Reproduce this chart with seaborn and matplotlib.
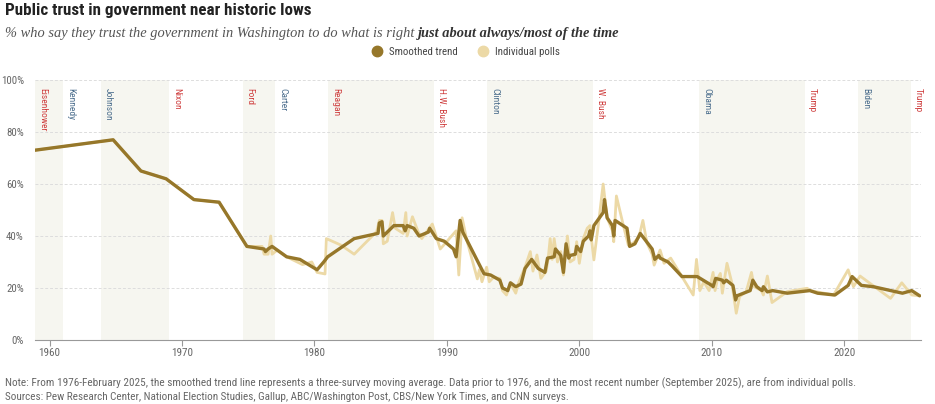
import numpy as np
import pandas as pd
import matplotlib
matplotlib.use("Agg")
import matplotlib.pyplot as plt
import seaborn as sns
from matplotlib import font_manager
from matplotlib.lines import Line2D

# smoothed trend (three-survey moving average)
trend_year = [1958.9, 1964.8, 1966.9, 1968.8, 1970.9, 1972.8, 1974.9, 1976.2, 1976.3, 1976.5,
              1976.8, 1977.9, 1978.9, 1980.2, 1980.7, 1981.0, 1983.0, 1984.8, 1984.9, 1985.1,
              1985.2, 1986.0, 1986.7, 1986.85, 1987.0, 1987.5, 1987.9, 1988.6, 1988.7, 1989.2,
              1989.8, 1990.5, 1990.7, 1991.0, 1991.2, 1992.8, 1993.3, 1994.0, 1994.2, 1994.6,
              1994.8, 1995.2, 1995.6, 1995.9, 1996.4, 1996.9, 1997.4, 1997.6, 1998.1, 1998.2,
              1998.6, 1998.8, 1999.0, 1999.2, 1999.3, 1999.7, 1999.8, 2000.1, 2000.3, 2000.7,
              2000.8, 2000.9, 2001.1, 2001.8, 2001.9, 2002.1, 2002.5, 2002.6, 2002.7, 2003.6,
              2003.8, 2004.2, 2004.6, 2005.5, 2005.7, 2006.0, 2006.1, 2006.7, 2007.0, 2007.75,
              2008.9, 2010.0, 2010.1, 2010.3, 2010.8, 2010.9, 2011.1, 2011.6, 2011.8, 2011.9,
              2012.9, 2013.1, 2013.4, 2013.8, 2013.9, 2014.2, 2014.6, 2015.7, 2017.4, 2018.0,
              2019.3, 2020.3, 2020.6, 2021.3, 2022.2, 2024.4, 2025.1, 2025.7]
trend_pct = [73, 77, 65, 62, 54, 53, 36, 35, 34, 35,
             36, 32, 31, 27, 30, 32, 39, 41, 45, 45.5,
             40, 44, 44, 42, 44, 43, 40, 41.5, 43, 39,
             38, 35, 32, 46, 41.5, 25.5, 25, 23, 20, 19,
             22, 20.5, 21.5, 27.5, 31, 27.5, 26, 31.5, 32, 35,
             32.5, 26, 37, 31.5, 32.5, 33, 36, 34, 38, 40,
             42, 38.5, 44, 49, 54, 47, 44, 40, 46, 43,
             36, 37, 41, 35, 31, 32.5, 31.5, 30, 28.5, 24.4,
             24.4, 21, 20.5, 23.7, 23, 22, 23, 21, 15.4, 17,
             19, 23, 20.5, 19, 20.5, 18.5, 19, 18, 19, 18,
             17.3, 21, 24.4, 21, 20.5, 18, 19, 17]

# individual polls
poll_year = [1958.9, 1964.8, 1966.9, 1968.8, 1970.9, 1972.8, 1974.9, 1976.05, 1976.2, 1976.5,
             1976.7, 1976.8, 1977.2, 1977.9, 1979.1, 1979.8, 1980.2, 1980.8, 1980.9, 1982.0,
             1983.0, 1984.7, 1984.9, 1985.1, 1985.2, 1985.5, 1985.9, 1986.1, 1986.7, 1986.9,
             1987.0, 1987.4, 1987.8, 1988.1, 1988.9, 1989.0, 1989.5, 1990.1, 1990.7, 1990.9,
             1991.15, 1991.5, 1992.3, 1992.45, 1992.65, 1993.0, 1993.2, 1993.5, 1994.0, 1994.2,
             1994.5, 1994.8, 1995.2, 1995.4, 1995.9, 1996.3, 1996.5, 1996.8, 1997.1, 1997.5,
             1997.65, 1997.8, 1997.95, 1998.1, 1998.35, 1998.6, 1998.8, 1999.1, 1999.3, 1999.6,
             1999.8, 2000.0, 2000.3, 2000.6, 2000.8, 2001.1, 2001.5, 2001.8, 2002.1, 2002.5,
             2002.6, 2002.8, 2003.3, 2003.7, 2004.1, 2004.5, 2004.8, 2005.1, 2005.5, 2005.65,
             2006.1, 2006.4, 2006.9, 2007.4, 2008.6, 2008.85, 2009.1, 2009.4, 2009.8, 2010.1,
             2010.25, 2010.45, 2010.65, 2010.8, 2011.15, 2011.5, 2011.85, 2012.1, 2012.6, 2013.0,
             2013.2, 2013.75, 2013.9, 2014.2, 2014.55, 2015.7, 2017.2, 2017.45, 2019.2, 2020.3,
             2020.7, 2021.2, 2023.5, 2024.35, 2025.1, 2025.7]
poll_pct = [73, 77, 65, 62, 54, 53, 36, 36, 33, 33,
            40, 33, 34.6, 32, 29, 30, 26, 25.4, 39, 36.5,
            33, 41.7, 46, 46, 37, 38, 49, 43, 41, 49,
            40, 47.4, 42, 39, 44.6, 43, 35, 38.5, 42, 25,
            47, 38.5, 23.5, 27, 22.4, 28, 22.4, 24, 23.7, 19,
            17.3, 21.8, 18, 21.8, 28, 34, 26.5, 32.7, 23.7, 26.5,
            31.5, 39, 31, 39, 30, 34, 25, 40, 30, 31,
            37.8, 29.5, 39, 43, 44, 30.8, 47, 60, 47, 42,
            37.8, 55.4, 44.6, 36.5, 37.4, 39.5, 46, 37.4, 33, 28.8,
            34.6, 29.5, 31.5, 27.3, 17.3, 31, 19, 22.4, 19, 26,
            19, 23.7, 25.6, 18, 29.5, 22.4, 10.3, 16.7, 18.6, 26,
            20.5, 19, 17.3, 24.6, 14.4, 18.6, 19.9, 19, 17.3, 27,
            20.5, 24.6, 16, 22, 17.3, 17]

# presidents: name, start of term, party
pres_names = ["Eisenhower", "Kennedy", "Johnson", "Nixon", "Ford", "Carter", "Reagan",
              "H.W. Bush", "Clinton", "W. Bush", "Obama", "Trump", "Biden", "Trump"]
pres_start = [1958.9, 1961.05, 1963.9, 1969.05, 1974.6, 1977.05, 1981.05,
              1989.05, 1993.05, 2001.05, 2009.05, 2017.05, 2021.05, 2025.05]
pres_party = ["R", "D", "D", "R", "R", "D", "R", "R", "D", "R", "D", "R", "D", "R"]

x_min, x_max = 1958.9, 2025.8

trend = pd.DataFrame({"year": trend_year, "pct": trend_pct})
polls = pd.DataFrame({"year": poll_year, "pct": poll_pct})

sns.set_theme(style="white")
names = {f.name for f in font_manager.fontManager.ttflist}
narrow = "Roboto"
for cand in ["Roboto Condensed", "Liberation Sans Narrow", "Open Sans Condensed"]:
    if cand in names:
        narrow = cand
        break
plt.rcParams["font.family"] = [narrow, "DejaVu Sans"]
serif = ["Liberation Serif", "DejaVu Serif"]

dark = "#96772a"
light = "#ecd9a6"
red = "#cf3f3f"
blue = "#4d6f8e"
grey = "#666666"

W, H = 935, 404
fig = plt.figure(figsize=(W / 100, H / 100), dpi=100)
ax = fig.add_axes([35 / W, 1 - 340 / H, (921 - 35) / W, 260 / H])


def fit(texts, target_px):
    # scale font sizes so the texts together span target_px
    fig.canvas.draw()
    r = fig.canvas.get_renderer()
    w = sum(t.get_window_extent(r).width for t in texts)
    for t in texts:
        t.set_fontsize(t.get_fontsize() * target_px / w)


# presidency bands
ends = pres_start[1:] + [x_max]
for i, (s, e) in enumerate(zip(pres_start, ends)):
    if i % 2 == 0:
        shade = "#f6f6f0" if i < len(pres_start) - 1 else "#fbfbf8"
        ax.axvspan(s, e, color=shade, lw=0, zorder=0)
    col = red if pres_party[i] == "R" else blue
    ax.text(s + 0.55, 96.8, pres_names[i], rotation=270, ha="center", va="top",
            fontsize=6.8, color=col, zorder=3)

for v in [20, 40, 60, 80, 100]:
    ax.axhline(v, color="#dddddd", lw=0.7, ls=(0, (3, 2)), zorder=1)

sns.lineplot(data=polls, x="year", y="pct", color=light, lw=2, ax=ax,
             estimator=None, sort=False, zorder=2)
sns.lineplot(data=trend, x="year", y="pct", color=dark, lw=2.4, ax=ax,
             estimator=None, sort=False, zorder=3)

ax.set_xlim(x_min, x_max)
ax.set_ylim(0, 100)
ax.set_xlabel("")
ax.set_ylabel("")
ax.set_xticks([1960, 1970, 1980, 1990, 2000, 2010, 2020])
ax.set_yticks([0, 20, 40, 60, 80, 100])
ax.set_yticklabels([f"{v}%" for v in [0, 20, 40, 60, 80, 100]])
ax.tick_params(axis="x", bottom=True, length=4, width=0.8, color="#999999",
               labelsize=8, labelcolor=grey, pad=2)
ax.tick_params(axis="y", left=False, labelsize=7.8, labelcolor=grey, pad=2)
for side in ["top", "right", "left"]:
    ax.spines[side].set_visible(False)
ax.spines["bottom"].set_color("#999999")
ax.spines["bottom"].set_linewidth(0.8)

# title and subtitle
title = fig.text(5 / W, 1 - 10 / H, "Public trust in government near historic lows",
                 fontsize=11, fontweight="bold", color="#222222", va="center", ha="left")
fit([title], 305)
sub1 = fig.text(5 / W, 1 - 33 / H,
                "% who say they trust the government in Washington to do what is right ",
                fontsize=10, style="italic", family=serif,
                color="#555555", va="center", ha="left")
sub2 = fig.text(0.5, 1 - 33 / H, "just about always/most of the time",
                fontsize=10, style="italic", fontweight="bold", family=serif,
                color="#333333", va="center", ha="left")
fit([sub1, sub2], 612)
fig.canvas.draw()
bb = sub1.get_window_extent().transformed(fig.transFigure.inverted())
sub2.set_x(bb.x1)

handles = [Line2D([], [], marker="o", ls="", ms=7.5, color=dark),
           Line2D([], [], marker="o", ls="", ms=7.5, color=light)]
fig.legend(handles, ["Smoothed trend", "Individual polls"], ncol=2, frameon=False,
           loc="center", bbox_to_anchor=(463 / W, 1 - 52 / H), fontsize=7.8,
           handletextpad=0.1, columnspacing=1.3, labelcolor="#444444")

note = fig.text(5 / W, 1 - 383 / H,
                "Note: From 1976-February 2025, the smoothed trend line represents a three-survey moving "
                "average. Data prior to 1976, and the most recent number (September 2025), are from individual polls.",
                fontsize=7.3, color=grey, va="center", ha="left")
src = fig.text(5 / W, 1 - 397 / H,
               "Sources: Pew Research Center, National Election Studies, Gallup, ABC/Washington Post, "
               "CBS/New York Times, and CNN surveys.",
               fontsize=7.3, color=grey, va="center", ha="left")
fit([note], 860)
fit([src], 565)

fig.savefig("out.png", dpi=100)
